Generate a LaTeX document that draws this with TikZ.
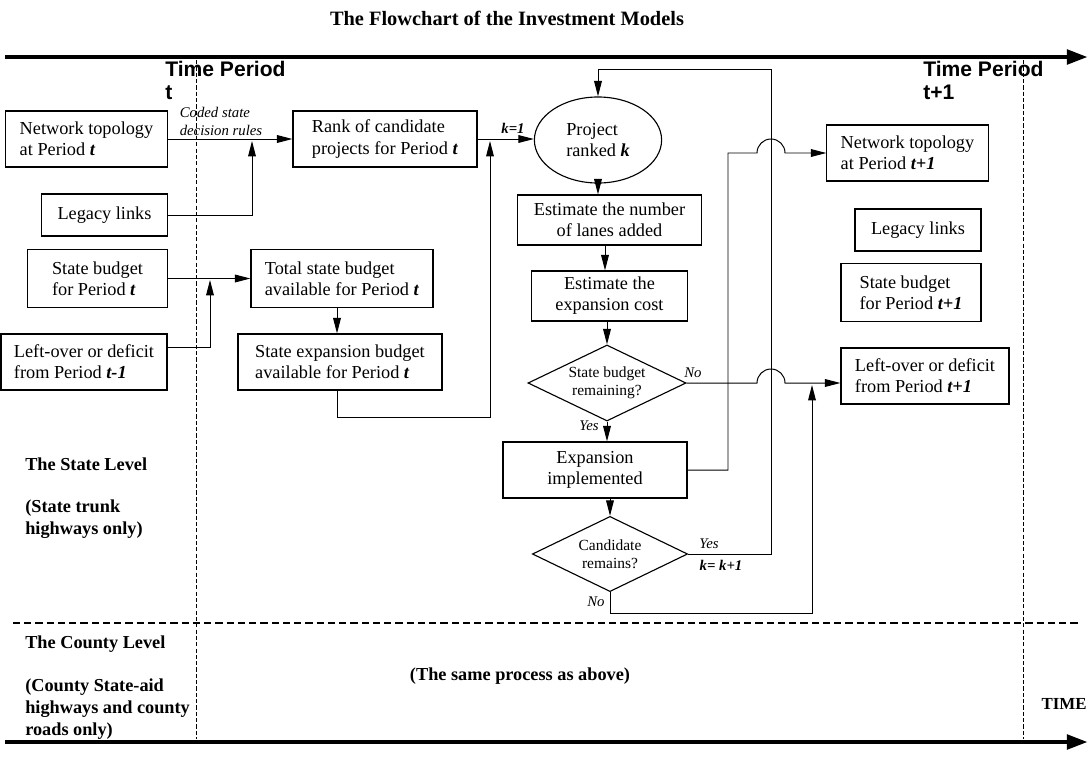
\documentclass[tikz,border=0pt]{standalone}
\usepackage{fontspec}
\setmainfont{Liberation Serif}
\newfontfamily\periodfont{Liberation Sans}
\usetikzlibrary{arrows.meta,shapes.geometric,calc}

\newcommand{\bi}[1]{\textbf{\textit{#1}}}

\begin{document}
\begin{tikzpicture}[
  x=0.025cm, y=-0.025cm,
  box/.style={draw, line width=0.8pt, inner sep=0pt, align=left,
    font=\fontsize{13}{15}\selectfont},
  cbox/.style={box, align=center},
  oval/.style={ellipse, draw, line width=0.8pt, inner sep=0pt, align=left,
    font=\fontsize{13}{15}\selectfont},
  decide/.style={diamond, draw, line width=0.8pt, inner sep=0pt, aspect=2.1,
    align=center, font=\fontsize{11}{13}\selectfont},
  lbl/.style={font=\fontsize{10.5}{13}\selectfont\itshape, inner sep=0pt, align=left},
  flow/.style={line width=0.7pt},
  arr/.style={flow, -{Triangle[length=11pt,width=5.5pt]}},
  timeline/.style={line width=3.4pt, -{Triangle[length=15pt,width=10pt]}},
  period/.style={font=\periodfont\fontsize{15}{16.5}\selectfont\bfseries,
    align=left, inner sep=0pt, anchor=north west},
  level/.style={font=\fontsize{13}{15.5}\selectfont\bfseries, align=left,
    inner sep=0pt, anchor=north west},
  divider/.style={dash pattern=on 3pt off 1.5pt, line width=0.6pt},
]
  \useasboundingbox (0,0) rectangle (1088,759);

  % Title
  \node[font=\fontsize{14.5}{17}\selectfont\bfseries] (title) at (507,18)
    {The Flowchart of the Investment Models};

  % Time axis and period borders
  \draw[timeline] (5,57) -- (1088,57);
  \draw[timeline] (5,742) -- (1088,742);
  \draw[divider] (196,60) -- (196,739);
  \draw[divider] (1023,60) -- (1023,739);
  \draw[dash pattern=on 5pt off 3pt, line width=1.1pt] (13,623) -- (1080,623);

  \node[period] (pert) at (165,61) {Time Period\\t};
  \node[period] (pern) at (923,61) {Time Period\\t+1};

  % Levels
  \node[level] (state) at (25,458)
    {The State Level\\[14pt](State trunk\\highways only)};
  \node[level] (county) at (25,636)
    {The County Level\\[15pt](County State-aid\\highways and county\\roads only)};
  \node[font=\fontsize{13}{15}\selectfont\bfseries] (same) at (520,676)
    {(The same process as above)};
  \node[font=\fontsize{12}{14}\selectfont\bfseries] (time) at (1064,704) {TIME};

  % Period t inputs
  \node[box, minimum width=4.03cm, minimum height=1.4cm] (ntt) at (86.5,139)
    {Network topology\\at Period \bi{t}};
  \node[box, minimum width=3.13cm, minimum height=1.05cm] (legt) at (104.5,215)
    {Legacy links};
  \node[box, minimum width=3.48cm, minimum height=1.43cm] (sbt) at (97.5,278.5)
    {State budget\\for Period \bi{t}};
  \node[box, minimum width=4.15cm, minimum height=1.4cm] (lot) at (84,362)
    {Left-over or deficit\\from Period \bi{t-1}};

  % Period t budget and ranking
  \node[box, minimum width=4.6cm, minimum height=1.4cm] (rank) at (385,139)
    {Rank of candidate\\projects for Period \bi{t}};
  \node[box, minimum width=4.55cm, minimum height=1.43cm] (tot) at (342,278.5)
    {Total state budget\\available for Period \bi{t}};
  \node[box, minimum width=5.1cm, minimum height=1.4cm] (sexp) at (340,362)
    {State expansion budget\\available for Period \bi{t}};

  % Project loop
  \node[oval, minimum width=3.18cm, minimum height=2.15cm] (proj) at (598,140)
    {Project\\ranked \bi{k}};
  \node[cbox, minimum width=4.58cm, minimum height=1.25cm] (lanes) at (609.5,220)
    {Estimate the number\\of lanes added};
  \node[cbox, minimum width=3.88cm, minimum height=1.25cm] (cost) at (609.5,296)
    {Estimate the\\expansion cost};
  \node[decide, minimum width=3.95cm, minimum height=1.9cm] (sbrem) at (607,383)
    {State budget\\remaining?};
  \node[cbox, minimum width=4.6cm, minimum height=1.4cm] (impl) at (595,470)
    {Expansion\\implemented};
  \node[decide, minimum width=3.88cm, minimum height=1.88cm] (cand) at (610,554)
    {Candidate\\remains?};

  % Period t+1 outputs
  \node[box, minimum width=4.03cm, minimum height=1.4cm] (ntn) at (907.5,153)
    {Network topology\\at Period \bi{t+1}};
  \node[box, minimum width=3.15cm, minimum height=1.05cm] (legn) at (918,230)
    {Legacy links};
  \node[box, minimum width=3.5cm, minimum height=1.43cm] (sbn) at (911,292.5)
    {State budget\\for Period \bi{t+1}};
  \node[box, minimum width=4.2cm, minimum height=1.4cm] (lon) at (925,376)
    {Left-over or deficit\\from Period \bi{t+1}};

  % Junctions and hops
  \coordinate (mergeA) at (252,141);
  \coordinate (mergeB) at (210,280);
  \coordinate (mergeC) at (490,141);
  \coordinate (mergeD) at (812,385);
  \coordinate (hopA) at (757,383);
  \coordinate (hopB) at (757,153);

  % Connectors
  \draw[arr] (ntt) -- (rank);
  \node[lbl] (coded) at (221,121.5) {Coded state\\decision rules};
  \draw[arr] (legt.east) -| (mergeA);
  \draw[arr] (sbt) -- (tot);
  \draw[arr] (lot.east |- 0,347) -| (mergeB);
  \draw[arr] (tot.south -| 337,0) -- (sexp.north -| 337,0);
  \draw[arr] (sexp.south -| 337,0) -- ++(0,27) -| (mergeC);
  \draw[arr] (rank.east) -- (rank.east -| proj.west);
  \node[lbl, font=\fontsize{10.5}{13}\selectfont\bfseries\itshape] (kone) at (513,128) {k=1};

  \draw[arr] (proj.south) -- (proj.south |- lanes.north);
  \draw[arr] (lanes.south -| 605,0) -- (cost.north -| 605,0);
  \draw[arr] (cost.south -| sbrem.north) -- (sbrem.north);
  \draw[arr] (sbrem.south) -- (sbrem.south |- impl.north);
  \node[lbl] (yesA) at (589,426) {Yes};
  \draw[arr] (impl.south -| cand.north) -- (cand.north);

  \draw[arr] (sbrem.east) -- (hopA) arc[start angle=180, end angle=0, radius=0.35cm]
    -- (lon.west |- sbrem.east);
  \node[lbl] (noA) at (693,373) {No};
  \draw[arr] (impl.east) -| (728,153) -- (hopB)
    arc[start angle=180, end angle=0, radius=0.35cm] -- (ntn.west);
  \draw[arr] (cand.east) -| (771,69) -| (proj.north);
  \node[lbl] (yesB) at (709,544) {Yes};
  \node[lbl, font=\fontsize{10.5}{13}\selectfont\bfseries\itshape] (knext) at (721,565) {k= k+1};
  \draw[arr] (cand.south) -- ++(0,21) -| (mergeD);
  \node[lbl] (noB) at (596,602) {No};
\end{tikzpicture}
\end{document}
